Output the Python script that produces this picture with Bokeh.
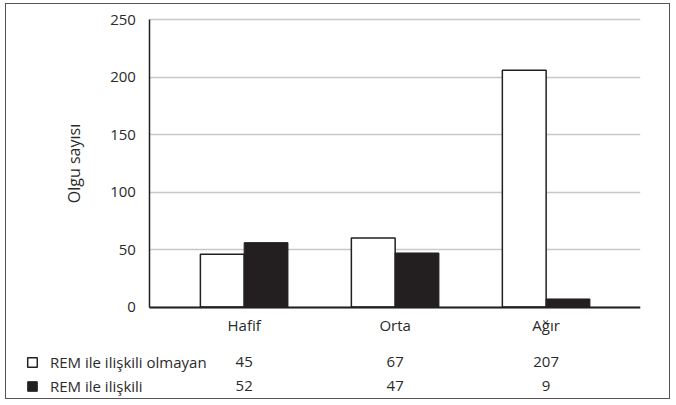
from bokeh.plotting import figure
from bokeh.models import (Range1d, ColumnDataSource, FixedTicker, Legend, LegendItem)
from bokeh.core.properties import value
from bokeh.transform import dodge
from bokeh.embed import file_html
from bokeh.resources import INLINE

categories = ["Hafif", "Orta", "Ağır"]
series_names = ["REM ile ilişkili olmayan", "REM ile ilişkili"]
not_rem = [46, 60, 206]
rem = [56, 47, 7]
not_rem_table = ["45", "67", "207"]
rem_table = ["52", "47", "9"]
y_ticks = [0, 50, 100, 150, 200, 250]

FONT = "Open Sans"
TXT = "#2a2a2a"
DARK = "#231f20"
FRAME = "1.5px solid #555555"

# ---- layout constants (pixels) ----
W, H = 663, 394
TOP, BOTTOM, LEFT, RIGHT = 3, 2, 10, 31
TOP_EXTRA_PX = 12         # room above the 250 line (for its tick label)
CHART_PX = 286            # pixel height of the 0..250 span
UNIT_PX = 150.5           # pixel width of one category
RIGHT_PAD = 0.625         # category units right of the last category centre
AXIS_PX = 133             # y axis position, px from frame left
ROW_PX = [54.5, 78.5]     # table rows, px below the baseline

frame_w = W - LEFT - RIGHT
frame_h = H - TOP - BOTTOM
y_max = y_ticks[-1]
px_per_val = CHART_PX / y_max
y_end = y_max + TOP_EXTRA_PX / px_per_val
y_start = -(frame_h - CHART_PX - TOP_EXTRA_PX) / px_per_val
x_end = (len(categories) - 1) + RIGHT_PAD
x_start = x_end - frame_w / UNIT_PX
axis_x = x_start + AXIS_PX / UNIT_PX

p = figure(width=W, height=H, output_backend="svg", toolbar_location=None,
           x_range=Range1d(x_start, x_end), y_range=Range1d(y_start, y_end),
           min_border_top=TOP, min_border_bottom=BOTTOM,
           min_border_left=LEFT, min_border_right=RIGHT)
p.outline_line_color = None
p.styles = {"box-sizing": "content-box", "border": FRAME,
            "margin": "3px 0 0 5px", "background-color": "white"}

idx = list(range(len(categories)))
src = ColumnDataSource(dict(idx=idx, a=not_rem, b=rem))

# grid lines (from the y axis to the right edge)
p.xgrid.grid_line_color = None
grid = p.ygrid[0]
if "cross_bounds" in grid.properties():
    grid.ticker = FixedTicker(ticks=y_ticks)
    grid.cross_bounds = (axis_x, x_end)
    grid.grid_line_color = "#c8c8c8"
    grid.grid_line_width = 1.5
else:
    grid.grid_line_color = None
    p.segment(x0=[axis_x] * len(y_ticks), x1=[x_end] * len(y_ticks),
              y0=y_ticks, y1=y_ticks, line_color="#c8c8c8", line_width=1.5)

r1 = p.vbar(x=dodge("idx", -0.145), top="a", width=0.29, source=src,
            fill_color="white", line_color=DARK, line_width=1.5)
r2 = p.vbar(x=dodge("idx", 0.145), top="b", width=0.29, source=src,
            fill_color=DARK, line_color=DARK, line_width=1)

# y axis
ya = p.yaxis[0]
ya.fixed_location = axis_x
ya.bounds = (0, y_max)
ya.ticker = FixedTicker(ticks=y_ticks)
ya.axis_line_color = DARK
ya.axis_line_width = 1.5
ya.major_tick_line_color = None
ya.minor_tick_line_color = None
ya.major_tick_out = 0
ya.major_tick_in = 0
ya.major_label_standoff = 14
ya.major_label_text_font = FONT
ya.major_label_text_font_size = "15px"
ya.major_label_text_color = TXT
ya.axis_label = "Olgu sayısı"
ya.axis_label_text_font = FONT
ya.axis_label_text_font_size = "16px"
ya.axis_label_text_font_style = "normal"
ya.axis_label_text_color = TXT
ya.axis_label_standoff = 22

# x axis (category names)
xa = p.xaxis[0]
xa.fixed_location = 0
xa.bounds = (axis_x, x_end)
xa.ticker = FixedTicker(ticks=idx)
xa.major_label_overrides = {i: c for i, c in zip(idx, categories)}
xa.axis_line_color = DARK
xa.axis_line_width = 2
xa.major_tick_line_color = None
xa.minor_tick_line_color = None
xa.major_tick_out = 0
xa.major_tick_in = 0
xa.major_label_standoff = 8
xa.major_label_text_font = FONT
xa.major_label_text_font_size = "15px"
xa.major_label_text_color = TXT

# data table under the chart
row_y = [-px / px_per_val for px in ROW_PX]
tsrc = ColumnDataSource(dict(
    x=idx + idx,
    y=[row_y[0]] * len(idx) + [row_y[1]] * len(idx),
    txt=not_rem_table + rem_table))
p.text(x="x", y="y", text="txt", source=tsrc, text_align="center",
       text_baseline="middle", text_font=value(FONT), text_font_size="15px",
       text_color=TXT)

legend = Legend(items=[LegendItem(label=series_names[0], renderers=[r1]),
                       LegendItem(label=series_names[1], renderers=[r2])],
                location=(10, 2), border_line_color=None,
                background_fill_alpha=0, padding=0, margin=0, spacing=4,
                glyph_width=12, glyph_height=12, label_height=20, label_standoff=12,
                label_text_font=FONT, label_text_font_size="15px",
                label_text_color=TXT, label_text_baseline="middle")
p.add_layout(legend, "center")

open("out.html", "w").write(file_html(p, INLINE))
